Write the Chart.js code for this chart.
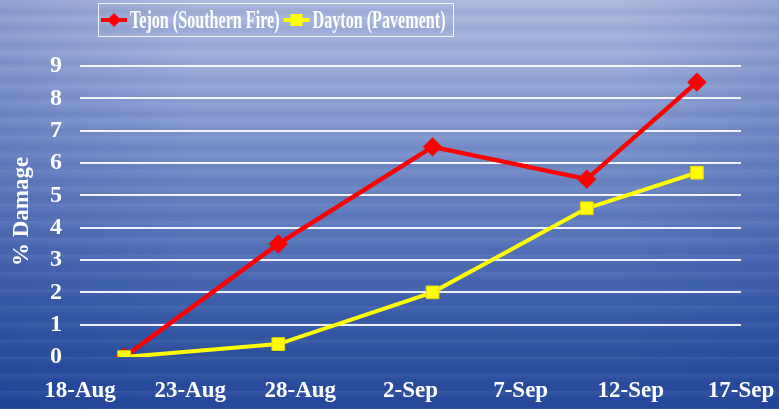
<!DOCTYPE html>
<html>
<head>
<meta charset="utf-8">
<script src="https://cdn.jsdelivr.net/npm/chart.js@4"></script>
<style>
  /* Fondo azul tipo agua, igual que la imagen de referencia */
  html, body { margin: 0; padding: 0; }
  #marco {
    width: 779px; height: 409px; position: relative;
    background:
      repeating-linear-gradient(180deg, rgba(255,255,255,0.06) 0px, rgba(255,255,255,0.0) 6px, rgba(20,40,110,0.07) 11px, rgba(255,255,255,0.0) 17px),
      linear-gradient(90deg, rgba(20,50,140,0.18) 0%, rgba(20,50,140,0.0) 25%, rgba(20,50,140,0.0) 80%, rgba(20,50,140,0.15) 100%),
      linear-gradient(180deg, #aab6dd 0%, #9fb0db 12%, #869bd1 28%, #6f89c6 42%, #5876bb 58%, #4163ae 72%, #2f53a0 86%, #26499c 100%);
  }
  canvas { position: absolute; left: 0; top: 0; }
</style>
</head>
<body>
<div id="marco"><canvas id="graficoDanio" width="779" height="409"></canvas></div>
<script>
/* ── DATOS DEL GRÁFICO ── */
/* Día de cada medición, contado desde el 18-Aug */
var diasMedicion = [2, 9, 16, 23, 28];
/* % de daño por serie */
var valoresTejon = [0, 3.5, 6.5, 5.5, 8.5];
var valoresDayton = [0, 0.4, 2, 4.6, 5.7];
/* Etiquetas del eje X, una cada 5 días */
var etiquetasFecha = ['18-Aug', '23-Aug', '28-Aug', '2-Sep', '7-Sep', '12-Sep', '17-Sep'];
var nombresSeries = ['Tejon (Southern Fire)', 'Dayton (Pavement)'];

var fuenteSerif = "'Liberation Serif', 'Times New Roman', serif";

function puntos(valores) {
    return diasMedicion.map(function (d, i) { return { x: d, y: valores[i] }; });
}

/* ── LEYENDA PROPIA ── texto estrecho como en el original */
var leyendaEstrecha = {
    id: 'leyendaEstrecha',
    afterDraw: function (chart) {
        var ctx = chart.ctx;
        var escala = 0.62;
        ctx.save();
        ctx.strokeStyle = 'rgba(255,255,255,0.85)';
        ctx.lineWidth = 1;
        ctx.strokeRect(98.5, 3.5, 355, 33);
        ctx.font = 'bold 26px ' + fuenteSerif;
        ctx.textBaseline = 'middle';
        var x = 101;
        var y = 20;
        chart.data.datasets.forEach(function (ds) {
            /* línea de muestra */
            ctx.strokeStyle = ds.borderColor;
            ctx.lineWidth = 4;
            ctx.beginPath();
            ctx.moveTo(x, y);
            ctx.lineTo(x + 26, y);
            ctx.stroke();
            /* marcador */
            ctx.fillStyle = ds.pointBackgroundColor;
            ctx.beginPath();
            if (ds.pointStyle === 'rectRot') {
                ctx.moveTo(x + 13, y - 7);
                ctx.lineTo(x + 20, y);
                ctx.lineTo(x + 13, y + 7);
                ctx.lineTo(x + 6, y);
            } else {
                ctx.rect(x + 7, y - 6, 12, 12);
            }
            ctx.fill();
            /* texto */
            var ancho = ctx.measureText(ds.label).width * escala;
            ctx.save();
            ctx.translate(x + 29, y + 1);
            ctx.scale(escala, 1);
            ctx.fillStyle = '#ffffff';
            ctx.fillText(ds.label, 0, 0);
            ctx.restore();
            x += 29 + ancho + 4;
        });
        ctx.restore();
    }
};

new Chart(document.getElementById('graficoDanio'), {
    type: 'line',
    data: {
        datasets: [{
            label: nombresSeries[0],
            data: puntos(valoresTejon),
            order: 1,
            borderColor: '#ff0000',
            backgroundColor: '#ff0000',
            pointBackgroundColor: '#ff0000',
            pointBorderColor: '#ff0000',
            pointStyle: 'rectRot',
            pointRadius: 6.5,
            borderWidth: 4.5,
            tension: 0
        }, {
            label: nombresSeries[1],
            data: puntos(valoresDayton),
            order: 0,
            borderColor: '#ffff00',
            backgroundColor: '#ffff00',
            pointBackgroundColor: '#ffff00',
            pointBorderColor: '#e6d800',
            pointStyle: 'rect',
            pointRadius: 9,
            pointBorderWidth: 1,
            borderWidth: 4,
            tension: 0
        }]
    },
    options: {
        responsive: false,
        animation: false,
        layout: { padding: { top: 66, right: 0, left: 0, bottom: 0 } },
        plugins: {
            legend: { display: false },
            tooltip: { enabled: false }
        },
        scales: {
            x: {
                type: 'linear',
                min: 0,
                max: 30,
                border: { display: false },
                grid: { display: false, drawTicks: false },
                ticks: {
                    stepSize: 5,
                    padding: 20,
                    color: '#ffffff',
                    font: { family: fuenteSerif, size: 23, weight: 'bold' },
                    maxRotation: 0,
                    callback: function (v) { return etiquetasFecha[v / 5]; }
                },
                /* Alto fijo del eje y margen derecho como en el original */
                afterFit: function (s) {
                    s.height = 52;
                    s.paddingLeft = 0;
                    s.paddingRight = 38;
                }
            },
            y: {
                min: 0,
                max: 9,
                border: { display: false },
                grid: {
                    drawTicks: false,
                    lineWidth: 2,
                    color: function (c) { return c.tick.value === 0 ? 'rgba(0,0,0,0)' : 'rgba(255,255,255,0.9)'; }
                },
                ticks: {
                    stepSize: 1,
                    padding: 18,
                    color: '#ffffff',
                    font: { family: fuenteSerif, size: 24, weight: 'bold' }
                },
                title: {
                    display: true,
                    text: '% Damage',
                    color: '#ffffff',
                    padding: { top: 8, bottom: 0 },
                    font: { family: fuenteSerif, size: 23, weight: 'bold' }
                },
                afterFit: function (s) { s.width = 80; }
            }
        }
    },
    plugins: [leyendaEstrecha]
});
</script>
</body>
</html>
